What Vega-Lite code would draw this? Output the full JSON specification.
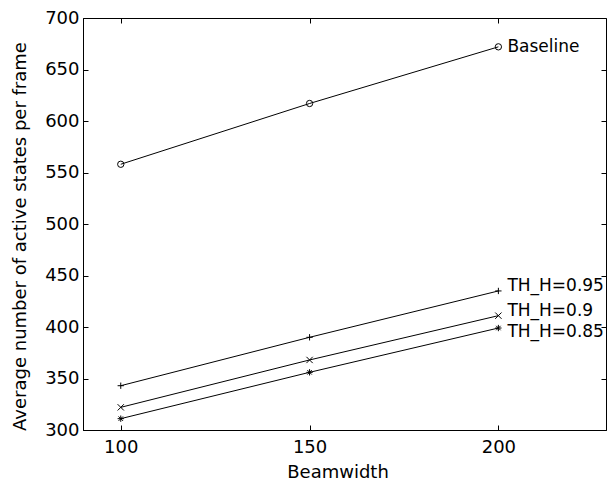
{
  "$schema": "https://vega.github.io/schema/vega-lite/v6.json",
  "width": 523,
  "height": 412,
  "autosize": "none",
  "padding": {"left": 83, "top": 18, "right": 1, "bottom": 64},
  "background": "white",
  "config": {
    "font": "DejaVu Sans",
    "view": {"stroke": "black", "strokeWidth": 1},
    "axis": {
      "grid": false,
      "domainColor": "black",
      "tickColor": "black",
      "labelColor": "black",
      "titleColor": "black",
      "labelFontSize": 18,
      "titleFontSize": 18,
      "titleFontWeight": "normal",
      "labelFont": "DejaVu Sans",
      "titleFont": "DejaVu Sans"
    }
  },
  "data": {
    "values": [
      {"series": "Baseline", "beamwidth": 100, "states": 558},
      {"series": "Baseline", "beamwidth": 150, "states": 617},
      {"series": "Baseline", "beamwidth": 200, "states": 672},
      {"series": "TH_H=0.95", "beamwidth": 100, "states": 343},
      {"series": "TH_H=0.95", "beamwidth": 150, "states": 390},
      {"series": "TH_H=0.95", "beamwidth": 200, "states": 435},
      {"series": "TH_H=0.9", "beamwidth": 100, "states": 322},
      {"series": "TH_H=0.9", "beamwidth": 150, "states": 368},
      {"series": "TH_H=0.9", "beamwidth": 200, "states": 411},
      {"series": "TH_H=0.85", "beamwidth": 100, "states": 311},
      {"series": "TH_H=0.85", "beamwidth": 150, "states": 356},
      {"series": "TH_H=0.85", "beamwidth": 200, "states": 399}
    ]
  },
  "layer": [
    {
      "mark": {"type": "line", "color": "black", "strokeWidth": 1},
      "encoding": {
        "x": {
          "field": "beamwidth", "type": "quantitative",
          "scale": {"domain": [90, 228.5], "nice": false, "zero": false},
          "axis": {
            "orient": "bottom", "values": [100, 150, 200], "tickSize": -5,
            "labelPadding": 13, "title": "Beamwidth",
            "titleX": 254.5, "titleY": 47, "titleBaseline": "alphabetic", "titleAlign": "center"
          }
        },
        "y": {
          "field": "states", "type": "quantitative",
          "scale": {"domain": [300, 700], "nice": false, "zero": false},
          "axis": {
            "orient": "left", "values": [300, 350, 400, 450, 500, 550, 600, 650, 700], "tickSize": -5,
            "labelPadding": 9, "title": "Average number of active states per frame",
            "titleX": -58, "titleY": 218, "titleBaseline": "alphabetic", "titleAlign": "center", "titleAngle": 270
          }
        },
        "detail": {"field": "series"}
      }
    },
    {
      "mark": {"type": "point", "filled": false, "stroke": "black", "strokeWidth": 1, "opacity": 1},
      "encoding": {
        "x": {"field": "beamwidth", "type": "quantitative", "axis": null},
        "y": {"field": "states", "type": "quantitative", "axis": null},
        "shape": {
          "field": "series", "type": "nominal", "legend": null,
          "scale": {
            "domain": ["Baseline", "TH_H=0.95", "TH_H=0.9", "TH_H=0.85"],
            "range": ["circle", "M-1,0L1,0M0,-1L0,1", "M-1,-1L1,1M-1,1L1,-1", "M-1,0L1,0M0,-1L0,1M-0.7,-0.7L0.7,0.7M-0.7,0.7L0.7,-0.7"]
          }
        },
        "size": {"value": 40}
      }
    },
    {
      "transform": [{"filter": "datum.beamwidth == 200 && datum.series == 'Baseline'"}],
      "mark": {"type": "text", "align": "left", "baseline": "middle", "dx": 9, "dy": 0, "fontSize": 17, "font": "DejaVu Sans", "color": "black"},
      "encoding": {
        "x": {"field": "beamwidth", "type": "quantitative", "axis": null},
        "y": {"field": "states", "type": "quantitative", "axis": null},
        "text": {"field": "series"}
      }
    },
    {
      "transform": [{"filter": "datum.beamwidth == 200 && (datum.series == 'TH_H=0.95' || datum.series == 'TH_H=0.9')"}],
      "mark": {"type": "text", "align": "left", "baseline": "middle", "dx": 9, "dy": -5, "fontSize": 17, "font": "DejaVu Sans", "color": "black"},
      "encoding": {
        "x": {"field": "beamwidth", "type": "quantitative", "axis": null},
        "y": {"field": "states", "type": "quantitative", "axis": null},
        "text": {"field": "series"}
      }
    },
    {
      "transform": [{"filter": "datum.beamwidth == 200 && datum.series == 'TH_H=0.85'"}],
      "mark": {"type": "text", "align": "left", "baseline": "middle", "dx": 9, "dy": 4, "fontSize": 17, "font": "DejaVu Sans", "color": "black"},
      "encoding": {
        "x": {"field": "beamwidth", "type": "quantitative", "axis": null},
        "y": {"field": "states", "type": "quantitative", "axis": null},
        "text": {"field": "series"}
      }
    },
    {
      "mark": {"type": "point", "opacity": 0},
      "encoding": {
        "x": {
          "field": "beamwidth", "type": "quantitative",
          "axis": {"orient": "top", "values": [100, 150, 200], "tickSize": -5, "labels": false, "domain": false, "title": null}
        },
        "y": {
          "field": "states", "type": "quantitative",
          "axis": {"orient": "right", "values": [300, 350, 400, 450, 500, 550, 600, 650, 700], "tickSize": -5, "labels": false, "domain": false, "title": null}
        }
      }
    }
  ],
  "resolve": {"axis": {"x": "independent", "y": "independent"}}
}
